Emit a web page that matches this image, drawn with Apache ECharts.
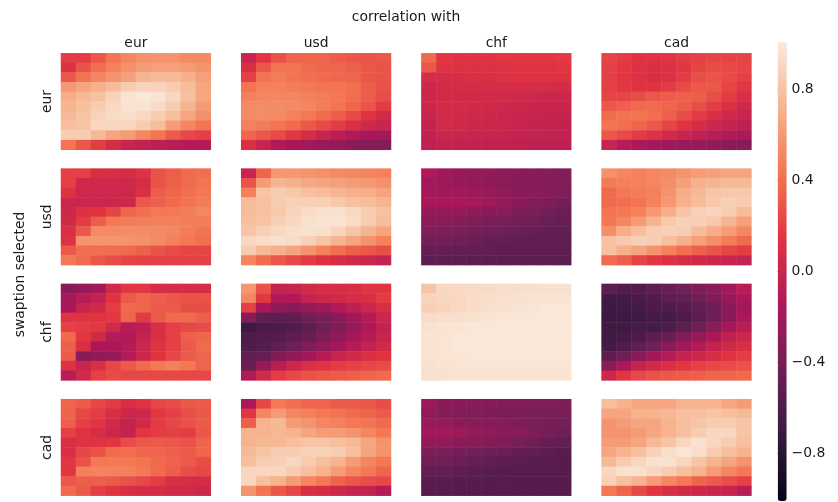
<!DOCTYPE html>
<html><head><meta charset="utf-8">
<script src="https://cdn.jsdelivr.net/npm/echarts@6/dist/echarts.min.js"></script>
<style>html,body{margin:0;padding:0;background:#fff}#c{width:838px;height:502px}</style>
</head><body><div id="c"></div>
<script>
// currencies (panel rows = swaption selected, panel columns = correlation with)
const currencies = ['eur', 'usd', 'chf', 'cad'];
const gridCols = ['0','1','2','3','4','5','6','7','8','9'];
const gridRows = ['0','1','2','3','4','5','6','7','8','9'];
const colorbarTicks = [-0.8, -0.4, 0.0, 0.4, 0.8];

const eur_eur = [
[0.18,0.18,0.30,0.42,0.50,0.55,0.56,0.56,0.52,0.52],
[0.12,0.28,0.40,0.48,0.55,0.60,0.62,0.62,0.60,0.56],
[0.30,0.42,0.50,0.56,0.62,0.72,0.75,0.75,0.70,0.62],
[0.58,0.65,0.70,0.76,0.84,0.87,0.87,0.84,0.76,0.65],
[0.68,0.74,0.78,0.87,0.96,0.98,0.96,0.89,0.77,0.65],
[0.72,0.77,0.84,0.90,0.96,0.96,0.92,0.84,0.72,0.60],
[0.74,0.79,0.87,0.92,0.93,0.90,0.84,0.77,0.65,0.55],
[0.77,0.80,0.89,0.89,0.89,0.84,0.76,0.60,0.50,0.42],
[0.84,0.84,0.74,0.65,0.60,0.50,0.42,0.31,0.23,0.20],
[0.42,0.30,0.18,0.08,0.00,-0.03,-0.06,-0.08,-0.10,-0.10]];
const eur_usd = [
[0.00,0.15,0.27,0.35,0.36,0.35,0.32,0.30,0.28,0.30],
[0.10,0.30,0.42,0.42,0.38,0.36,0.35,0.33,0.30,0.28],
[0.20,0.42,0.45,0.42,0.40,0.38,0.37,0.35,0.30,0.28],
[0.42,0.48,0.48,0.46,0.44,0.42,0.42,0.40,0.32,0.28],
[0.48,0.50,0.50,0.50,0.48,0.46,0.44,0.40,0.32,0.26],
[0.52,0.53,0.53,0.52,0.50,0.46,0.42,0.36,0.28,0.18],
[0.52,0.53,0.52,0.48,0.44,0.38,0.32,0.24,0.14,0.06],
[0.48,0.46,0.42,0.38,0.30,0.24,0.18,0.10,0.04,0.00],
[0.36,0.30,0.24,0.16,0.08,0.00,-0.06,-0.12,-0.16,-0.18],
[0.10,0.00,-0.12,-0.16,-0.20,-0.24,-0.27,-0.30,-0.32,-0.34]];
const eur_chf = [
[0.38,0.15,0.14,0.13,0.14,0.15,0.15,0.15,0.16,0.17],
[0.30,0.13,0.12,0.12,0.12,0.12,0.13,0.13,0.14,0.15],
[0.08,0.08,0.09,0.10,0.10,0.11,0.12,0.12,0.12,0.12],
[0.02,0.06,0.07,0.07,0.08,0.08,0.09,0.08,0.08,0.07],
[0.02,0.05,0.05,0.05,0.05,0.05,0.04,0.03,0.02,0.02],
[0.02,0.06,0.06,0.05,0.04,0.03,0.02,0.01,0.00,0.00],
[0.00,0.06,0.05,0.04,0.03,0.02,0.01,0.00,-0.01,-0.02],
[-0.02,0.06,0.05,0.03,0.02,0.01,0.00,-0.01,-0.02,-0.03],
[-0.03,0.02,0.01,0.00,0.00,-0.01,-0.02,-0.02,-0.03,-0.03],
[-0.04,-0.02,-0.03,-0.03,-0.04,-0.04,-0.04,-0.05,-0.05,-0.05]];
const eur_cad = [
[0.22,0.18,0.14,0.13,0.15,0.18,0.20,0.22,0.21,0.22],
[0.20,0.16,0.12,0.10,0.12,0.16,0.22,0.26,0.24,0.22],
[0.20,0.15,0.12,0.10,0.12,0.18,0.26,0.28,0.24,0.20],
[0.20,0.16,0.14,0.14,0.18,0.24,0.30,0.30,0.22,0.16],
[0.22,0.22,0.26,0.30,0.32,0.34,0.32,0.26,0.18,0.10],
[0.30,0.34,0.38,0.38,0.36,0.32,0.26,0.18,0.10,0.04],
[0.38,0.42,0.42,0.40,0.34,0.26,0.18,0.10,0.04,0.00],
[0.42,0.40,0.36,0.30,0.22,0.14,0.08,0.02,-0.02,-0.05],
[0.30,0.24,0.18,0.12,0.06,0.00,-0.04,-0.08,-0.12,-0.14],
[0.00,-0.10,-0.14,-0.18,-0.22,-0.24,-0.26,-0.28,-0.30,-0.32]];
const usd_eur = [
[0.20,0.20,0.10,0.10,0.08,0.12,0.28,0.32,0.38,0.40],
[0.20,0.04,0.04,0.04,0.04,0.08,0.28,0.34,0.38,0.42],
[0.12,0.03,0.03,0.03,0.03,0.10,0.32,0.36,0.40,0.44],
[0.02,0.02,0.02,0.02,0.03,0.30,0.34,0.38,0.42,0.46],
[0.03,0.12,0.14,0.22,0.35,0.40,0.44,0.44,0.46,0.50],
[0.05,0.18,0.32,0.44,0.46,0.47,0.48,0.48,0.47,0.46],
[0.10,0.30,0.52,0.52,0.53,0.53,0.52,0.50,0.46,0.42],
[0.12,0.56,0.57,0.57,0.56,0.55,0.52,0.48,0.44,0.40],
[0.30,0.40,0.40,0.40,0.38,0.34,0.28,0.24,0.22,0.22],
[0.44,0.38,0.30,0.26,0.22,0.20,0.20,0.20,0.20,0.20]];
const usd_usd = [
[0.00,0.35,0.58,0.58,0.56,0.55,0.52,0.50,0.50,0.48],
[0.28,0.60,0.72,0.70,0.66,0.64,0.62,0.60,0.58,0.55],
[0.48,0.80,0.84,0.82,0.78,0.76,0.72,0.70,0.68,0.64],
[0.76,0.78,0.84,0.86,0.86,0.86,0.82,0.78,0.76,0.72],
[0.76,0.78,0.82,0.88,0.92,0.94,0.94,0.90,0.84,0.78],
[0.78,0.80,0.86,0.90,0.95,0.96,0.96,0.92,0.84,0.76],
[0.80,0.86,0.90,0.93,0.95,0.93,0.88,0.80,0.72,0.64],
[0.90,0.92,0.94,0.92,0.86,0.80,0.72,0.64,0.56,0.48],
[0.84,0.74,0.70,0.64,0.56,0.48,0.40,0.34,0.30,0.26],
[0.50,0.38,0.30,0.24,0.18,0.12,0.08,0.05,0.02,-0.02]];
const usd_chf = [
[-0.12,-0.20,-0.24,-0.26,-0.28,-0.30,-0.30,-0.32,-0.32,-0.34],
[-0.18,-0.22,-0.24,-0.26,-0.28,-0.30,-0.32,-0.33,-0.34,-0.35],
[-0.18,-0.20,-0.20,-0.22,-0.24,-0.28,-0.30,-0.32,-0.34,-0.36],
[-0.16,-0.16,-0.16,-0.18,-0.22,-0.26,-0.30,-0.34,-0.36,-0.40],
[-0.26,-0.26,-0.26,-0.28,-0.30,-0.32,-0.36,-0.38,-0.42,-0.45],
[-0.30,-0.32,-0.34,-0.36,-0.38,-0.40,-0.42,-0.44,-0.46,-0.48],
[-0.34,-0.36,-0.38,-0.40,-0.42,-0.44,-0.46,-0.47,-0.48,-0.50],
[-0.42,-0.42,-0.44,-0.46,-0.48,-0.49,-0.50,-0.50,-0.50,-0.50],
[-0.48,-0.48,-0.50,-0.50,-0.50,-0.51,-0.51,-0.51,-0.51,-0.51],
[-0.52,-0.52,-0.52,-0.52,-0.52,-0.52,-0.52,-0.52,-0.52,-0.52]];
const usd_cad = [
[0.55,0.50,0.48,0.50,0.52,0.56,0.60,0.62,0.64,0.64],
[0.45,0.48,0.48,0.50,0.54,0.62,0.70,0.72,0.74,0.74],
[0.38,0.44,0.46,0.48,0.56,0.68,0.74,0.80,0.82,0.82],
[0.38,0.40,0.42,0.48,0.58,0.70,0.76,0.82,0.86,0.84],
[0.42,0.44,0.48,0.58,0.68,0.80,0.86,0.88,0.84,0.76],
[0.44,0.50,0.60,0.72,0.82,0.86,0.86,0.82,0.72,0.62],
[0.54,0.68,0.76,0.84,0.86,0.84,0.76,0.68,0.60,0.50],
[0.78,0.82,0.86,0.84,0.78,0.70,0.62,0.54,0.46,0.38],
[0.78,0.70,0.64,0.56,0.48,0.40,0.34,0.28,0.22,0.18],
[0.38,0.32,0.22,0.16,0.12,0.08,0.04,0.02,0.00,-0.02]];
const chf_eur = [
[-0.30,-0.26,-0.19,0.05,0.16,0.16,0.08,0.08,0.08,0.08],
[-0.18,-0.08,-0.02,0.14,0.31,0.36,0.33,0.30,0.27,0.28],
[-0.15,0.00,0.05,0.19,0.38,0.35,0.31,0.31,0.26,0.26],
[0.14,0.14,0.14,0.16,0.36,0.17,0.31,0.38,0.38,0.33],
[0.20,0.18,0.16,0.05,-0.08,-0.05,0.10,0.20,0.23,0.25],
[0.38,0.16,0.05,-0.10,-0.12,-0.02,0.10,0.20,0.33,0.36],
[0.33,0.10,-0.15,-0.15,-0.10,0.02,0.14,0.20,0.31,0.38],
[0.31,-0.31,-0.28,-0.25,-0.10,0.02,0.14,0.23,0.31,0.35],
[0.14,0.00,0.10,0.23,0.31,0.38,0.44,0.48,0.44,0.35],
[-0.08,0.05,0.20,0.25,0.23,0.23,0.23,0.23,0.23,0.23]];
const chf_usd = [
[0.58,0.27,-0.02,0.00,0.05,0.08,0.08,0.10,0.15,0.15],
[0.50,0.16,-0.12,-0.12,-0.02,0.02,0.05,0.08,0.10,0.18],
[0.20,-0.15,-0.28,-0.31,-0.25,-0.20,-0.12,-0.05,0.02,0.10],
[-0.31,-0.50,-0.52,-0.50,-0.44,-0.38,-0.31,-0.20,-0.10,0.02],
[-0.68,-0.60,-0.60,-0.58,-0.52,-0.44,-0.36,-0.25,-0.14,-0.02],
[-0.60,-0.58,-0.56,-0.52,-0.47,-0.38,-0.28,-0.19,-0.10,0.00],
[-0.58,-0.56,-0.50,-0.44,-0.36,-0.28,-0.19,-0.10,-0.02,0.05],
[-0.50,-0.47,-0.36,-0.28,-0.19,-0.10,0.00,0.05,0.10,0.14],
[-0.47,-0.25,-0.08,0.02,0.10,0.14,0.18,0.20,0.23,0.25],
[-0.12,0.05,0.18,0.23,0.27,0.30,0.31,0.33,0.35,0.38]];
const chf_chf = [
[0.80,0.90,0.90,0.91,0.92,0.93,0.93,0.94,0.95,0.95],
[0.88,0.89,0.90,0.92,0.93,0.94,0.95,0.96,0.96,0.96],
[0.85,0.88,0.90,0.92,0.94,0.95,0.96,0.97,0.98,0.98],
[0.92,0.93,0.94,0.95,0.97,0.98,0.98,0.98,0.99,0.99],
[0.95,0.96,0.97,0.98,0.98,0.99,0.99,0.99,0.99,0.99],
[0.96,0.97,0.98,0.98,0.99,0.99,0.99,0.99,0.99,0.98],
[0.96,0.97,0.98,0.98,0.99,0.99,0.99,0.99,0.98,0.98],
[0.96,0.97,0.97,0.98,0.98,0.98,0.98,0.98,0.98,0.98],
[0.95,0.96,0.97,0.97,0.97,0.97,0.97,0.97,0.97,0.97],
[0.94,0.95,0.96,0.96,0.96,0.96,0.96,0.96,0.96,0.96]];
const chf_cad = [
[-0.52,-0.58,-0.58,-0.52,-0.47,-0.43,-0.36,-0.30,-0.19,-0.08],
[-0.66,-0.64,-0.60,-0.58,-0.52,-0.50,-0.44,-0.36,-0.25,-0.15],
[-0.68,-0.66,-0.64,-0.60,-0.58,-0.56,-0.50,-0.44,-0.31,-0.19],
[-0.68,-0.68,-0.66,-0.64,-0.64,-0.60,-0.52,-0.44,-0.31,-0.15],
[-0.68,-0.66,-0.64,-0.64,-0.60,-0.52,-0.44,-0.31,-0.19,-0.08],
[-0.66,-0.64,-0.60,-0.52,-0.47,-0.36,-0.25,-0.15,-0.05,0.02],
[-0.64,-0.58,-0.50,-0.43,-0.31,-0.20,-0.10,-0.02,0.05,0.10],
[-0.52,-0.44,-0.31,-0.20,-0.10,-0.02,0.03,0.08,0.14,0.18],
[-0.31,-0.15,-0.02,0.05,0.10,0.15,0.20,0.23,0.25,0.27],
[0.03,0.15,0.23,0.27,0.30,0.31,0.33,0.35,0.36,0.38]];
const cad_eur = [
[0.35,0.31,0.23,0.18,0.10,0.14,0.23,0.25,0.30,0.31],
[0.35,0.23,0.18,0.10,0.02,0.03,0.16,0.20,0.26,0.30],
[0.33,0.20,0.15,0.05,-0.02,0.05,0.18,0.23,0.27,0.31],
[0.20,0.14,0.08,0.02,-0.02,0.16,0.18,0.20,0.18,0.30],
[0.10,0.14,0.14,0.15,0.26,0.30,0.31,0.30,0.27,0.35],
[0.10,0.23,0.27,0.38,0.40,0.35,0.35,0.33,0.31,0.36],
[0.15,0.27,0.44,0.44,0.44,0.42,0.38,0.35,0.31,0.26],
[0.15,0.48,0.49,0.48,0.48,0.44,0.38,0.33,0.26,0.23],
[0.30,0.33,0.33,0.31,0.27,0.23,0.18,0.10,0.08,0.08],
[0.38,0.31,0.20,0.15,0.10,0.08,0.08,0.05,0.05,0.03]];
const cad_usd = [
[-0.15,0.23,0.44,0.40,0.35,0.35,0.31,0.31,0.30,0.26],
[0.15,0.50,0.60,0.50,0.48,0.44,0.42,0.38,0.35,0.31],
[0.33,0.71,0.74,0.60,0.56,0.50,0.48,0.44,0.42,0.38],
[0.71,0.71,0.74,0.71,0.65,0.60,0.60,0.56,0.50,0.44],
[0.71,0.74,0.74,0.77,0.80,0.80,0.77,0.74,0.65,0.56],
[0.74,0.80,0.84,0.84,0.86,0.86,0.84,0.77,0.65,0.56],
[0.77,0.84,0.86,0.89,0.84,0.77,0.71,0.60,0.50,0.44],
[0.89,0.89,0.89,0.84,0.77,0.71,0.60,0.50,0.44,0.35],
[0.89,0.77,0.71,0.60,0.50,0.44,0.35,0.30,0.26,0.23],
[0.56,0.42,0.30,0.23,0.10,0.08,0.03,0.00,-0.02,-0.10]];
const cad_chf = [
[-0.22,-0.30,-0.31,-0.32,-0.33,-0.34,-0.34,-0.35,-0.35,-0.36],
[-0.28,-0.32,-0.34,-0.35,-0.36,-0.37,-0.38,-0.38,-0.38,-0.38],
[-0.24,-0.27,-0.30,-0.32,-0.33,-0.34,-0.36,-0.38,-0.39,-0.40],
[-0.20,-0.20,-0.22,-0.26,-0.28,-0.30,-0.32,-0.36,-0.40,-0.44],
[-0.28,-0.28,-0.30,-0.32,-0.34,-0.36,-0.40,-0.44,-0.48,-0.50],
[-0.36,-0.38,-0.40,-0.42,-0.44,-0.46,-0.48,-0.50,-0.52,-0.54],
[-0.42,-0.44,-0.46,-0.48,-0.50,-0.52,-0.53,-0.54,-0.54,-0.55],
[-0.50,-0.50,-0.52,-0.53,-0.54,-0.55,-0.55,-0.55,-0.55,-0.55],
[-0.54,-0.54,-0.55,-0.56,-0.56,-0.56,-0.56,-0.56,-0.55,-0.55],
[-0.55,-0.55,-0.56,-0.56,-0.56,-0.56,-0.56,-0.56,-0.55,-0.55]];
const cad_cad = [
[0.77,0.71,0.65,0.65,0.65,0.71,0.71,0.71,0.65,0.60],
[0.65,0.65,0.71,0.71,0.74,0.77,0.77,0.80,0.77,0.74],
[0.56,0.60,0.65,0.65,0.71,0.77,0.80,0.84,0.84,0.80],
[0.56,0.56,0.60,0.65,0.71,0.77,0.84,0.89,0.89,0.80],
[0.60,0.60,0.65,0.74,0.80,0.89,0.95,0.89,0.84,0.77],
[0.65,0.71,0.77,0.86,0.93,0.97,0.93,0.84,0.77,0.71],
[0.74,0.84,0.89,0.95,0.95,0.89,0.80,0.71,0.65,0.56],
[0.89,0.95,0.95,0.89,0.84,0.77,0.71,0.60,0.50,0.44],
[0.86,0.77,0.71,0.60,0.50,0.44,0.35,0.31,0.26,0.20],
[0.44,0.35,0.23,0.15,0.10,0.05,0.03,0.02,0.00,-0.08]];

const panels = [
  [eur_eur, eur_usd, eur_chf, eur_cad],
  [usd_eur, usd_usd, usd_chf, usd_cad],
  [chf_eur, chf_usd, chf_chf, chf_cad],
  [cad_eur, cad_usd, cad_chf, cad_cad]
];

const rocket = ['#03051a','#35193e','#701f57','#ad1759','#e13342','#f37651','#f6b48f','#faebdd'];
const FONT = 'DejaVu Sans';
const TXT = '#1a1a1a';
const FS = 13.9;

const grids = [], xAxes = [], yAxes = [], series = [];
const panelLeft = 61, panelTop = 53.3, panelW = 149.8, panelH = 96.5, stepX = 180.2, stepY = 115.3;
for (let r = 0; r < 4; r++) {
  for (let c = 0; c < 4; c++) {
    const k = r * 4 + c;
    grids.push({ left: panelLeft + c * stepX, top: panelTop + r * stepY, width: panelW, height: panelH });
    xAxes.push({
      type: 'category', gridIndex: k, data: gridCols, position: 'top', show: r === 0,
      axisLine: { show: false }, axisTick: { show: false }, axisLabel: { show: false }, splitLine: { show: false },
      name: r === 0 ? currencies[c] : '', nameLocation: 'middle', nameGap: 3,
      nameTextStyle: { fontFamily: FONT, fontSize: FS, color: TXT, verticalAlign: 'bottom' }
    });
    yAxes.push({
      type: 'category', gridIndex: k, data: gridRows, inverse: true, position: 'left', show: c === 0,
      axisLine: { show: false }, axisTick: { show: false }, axisLabel: { show: false }, splitLine: { show: false },
      name: c === 0 ? currencies[r] : '', nameLocation: 'middle', nameGap: 7, nameRotate: 90,
      nameTextStyle: { fontFamily: FONT, fontSize: FS, color: TXT, verticalAlign: 'bottom' }
    });
    const m = panels[r][c];
    const data = [];
    for (let i = 0; i < m.length; i++) for (let j = 0; j < m[i].length; j++) data.push([j, i, m[i][j]]);
    series.push({ type: 'heatmap', xAxisIndex: k, yAxisIndex: k, data: data, progressive: 0, emphasis: { disabled: true }, silent: true });
  }
}
// colorbar axis
const cbLeft = 777.7, cbTop = 42, cbW = 9, cbH = 459;
grids.push({ left: cbLeft, top: cbTop, width: cbW, height: cbH });
xAxes.push({ type: 'value', gridIndex: 16, show: false, min: 0, max: 1 });
yAxes.push({
  type: 'value', gridIndex: 16, position: 'right', min: -1.01, max: 1.01,
  axisLine: { show: false }, splitLine: { show: false },
  axisTick: { show: true, length: 4.9, customValues: colorbarTicks, lineStyle: { color: TXT, width: 0.9 } },
  axisLabel: { show: true, customValues: colorbarTicks, margin: 4.9, fontFamily: FONT, fontSize: FS, color: TXT,
    formatter: v => v.toFixed(1).replace('-', '\u2212') }
});

const chart = echarts.init(document.getElementById('c'), null, { renderer: 'canvas' });
chart.setOption({
  animation: false,
  backgroundColor: '#fff',
  title: { text: 'correlation with', left: 406, top: 10, textAlign: 'center', padding: 0,
    textStyle: { fontFamily: FONT, fontSize: FS, fontWeight: 'normal', color: TXT } },
  grid: grids, xAxis: xAxes, yAxis: yAxes, series: series,
  visualMap: {
    type: 'continuous', min: -1, max: 1, seriesIndex: series.map((s, i) => i),
    inRange: { color: rocket }, calculable: false, orient: 'vertical',
    left: cbLeft, top: cbTop, itemWidth: cbW, itemHeight: cbH, padding: 0, hoverLink: false
  },
  graphic: [{
    type: 'text', x: 20, y: 274.5, rotation: Math.PI / 2,
    style: { text: 'swaption selected', font: FS + 'px "' + FONT + '"', fill: TXT, textAlign: 'center', textVerticalAlign: 'middle' }
  }]
});
</script></body></html>
